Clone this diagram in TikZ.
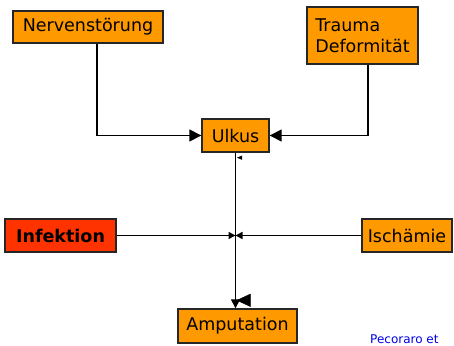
\documentclass[tikz,border=0pt]{standalone}
\usepackage{fontspec}
\setmainfont{DejaVu Sans}
\usetikzlibrary{arrows.meta}
\definecolor{boxorange}{RGB}{255,153,0}
\definecolor{boxred}{RGB}{255,51,0}
\definecolor{refblue}{RGB}{0,0,230}
\begin{document}
\begin{tikzpicture}[x=10pt,y=10pt,
	cause/.style={draw=black!85,line width=1.4pt,fill=boxorange,inner sep=0pt,
		font=\fontsize{17.5}{21}\selectfont},
	wire/.style={line width=1.5pt},
	link/.style={wire,-{Triangle[length=12pt,width=12pt]}},
	smalltip/.style={wire,-{Triangle[length=7pt,width=7pt]}}]
	\useasboundingbox (0,0) rectangle (45.4,34.5);
	\node[cause,minimum width=150pt,minimum height=32pt] (nerv) at (8.8,31.8) {Nervenstörung};
	\node[cause,minimum width=111pt,minimum height=57pt,align=left] (trauma) at (36.25,30.95) {Trauma\\Deformität};
	\node[cause,minimum width=67pt,minimum height=33pt] (ulkus) at (23.55,20.95) {Ulkus};
	\node[cause,fill=boxred,minimum width=111pt,minimum height=33pt,font=\fontsize{17.5}{21}\selectfont\bfseries] (infekt) at (6.05,10.95) {Infektion};
	\node[cause,minimum width=90pt,minimum height=33pt] (ischaemie) at (40.7,10.95) {Ischämie};
	\node[cause,minimum width=119pt,minimum height=34pt] (amput) at (23.75,1.9) {Amputation};
	\coordinate (mid) at (ulkus.south |- infekt.east);
	% paths to the ulcer
	\draw[link] ([xshift=9pt]nerv.south) |- (ulkus.west);
	\draw[link] ([xshift=5.5pt]trauma.south) |- (ulkus.east);
	% paths to the junction
	\draw[smalltip] (infekt.east) -- (mid);
	\draw[smalltip] (ischaemie.west) -- (mid);
	\draw[wire,-{Triangle[length=9pt,width=9pt]}] (ulkus.south) -- (ulkus.south |- amput.north);
	% stray tips
	\draw[-{Triangle[length=5pt,width=4pt]}] ([xshift=2.5pt,yshift=-5pt]ulkus.south) -- ++(-0.1,0);
	\draw[-{Triangle[length=14pt,width=13pt]}] ([xshift=0pt,yshift=8pt]amput.north) -- ++(-0.1,0);
	\node[anchor=south west,inner sep=0pt,text=refblue,font=\fontsize{12}{14}\selectfont] (quelle) at (37.0,0.1) {Pecoraro et};
\end{tikzpicture}
\end{document}
